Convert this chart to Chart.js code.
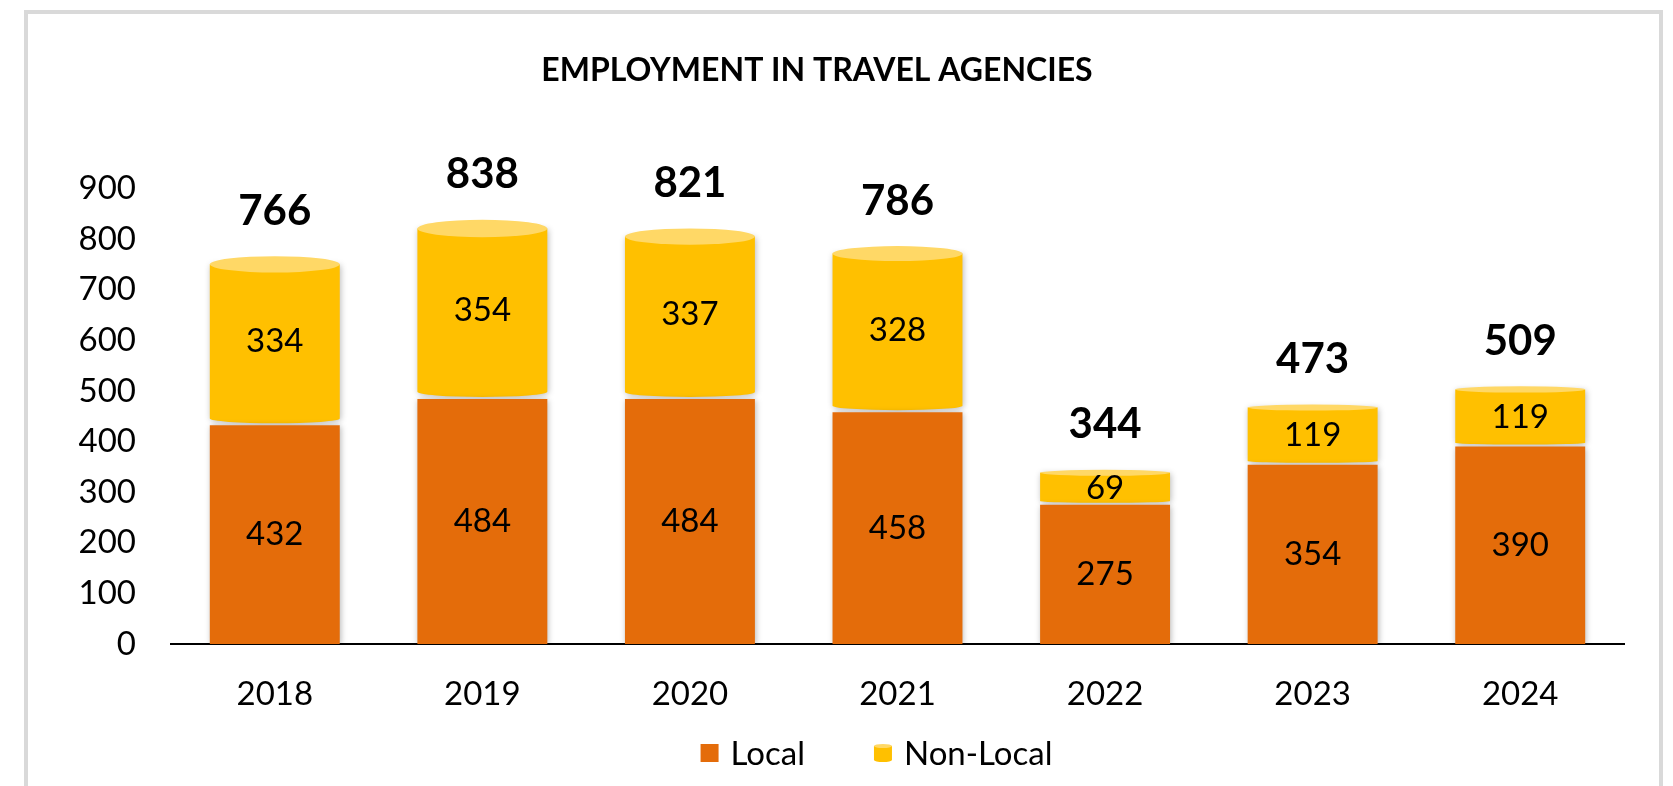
<!DOCTYPE html>
<html>
<head>
<meta charset="utf-8">
<title>Employment in Travel Agencies</title>
<script src="https://cdn.jsdelivr.net/npm/chart.js@4.4.1/dist/chart.umd.min.js"></script>
<style>
    html, body { margin: 0; padding: 0; background: #fff; overflow: hidden; }
    #frame {
        position: absolute;
        left: 24px; top: 10px;
        width: 1631px; height: 800px;
        border: 4px solid #d9d9d9;
        border-bottom: none;
    }
    #chart { position: absolute; left: 0; top: 0; }
</style>
</head>
<body>
<div id="frame"></div>
<canvas id="chart" width="1673" height="786"></canvas>
<script>
// employment figures per year
const years = ["2018", "2019", "2020", "2021", "2022", "2023", "2024"];
const localStaff = [432, 484, 484, 458, 275, 354, 390];
const nonLocalStaff = [334, 354, 337, 328, 69, 119, 119];
const yTicks = [0, 100, 200, 300, 400, 500, 600, 700, 800, 900];

const totals = years.map((_, i) => localStaff[i] + nonLocalStaff[i]);

const ORANGE = "#e46c0a";
const YELLOW = "#ffc000";
const YELLOW_TOP = "#ffd866";
const FONT = "Lato, 'Open Sans', sans-serif";

// perspective-ish cap height: taller near the top-left, flatter low and right
const capRadius = (x, y) => Math.max(3, Math.min(10, 0.024 * (595 - y) - 0.0015 * (x - 276)));

function setShadow(ctx) {
    ctx.shadowColor = "rgba(0,0,0,0.28)";
    ctx.shadowBlur = 6;
    ctx.shadowOffsetX = 1;
    ctx.shadowOffsetY = 1;
}

function drawCylinder(ctx, bar, small) {
    const rx = bar.width / 2;
    const left = bar.x - rx, right = bar.x + rx;
    const ry = capRadius(bar.x, bar.y);
    const ryb = ry * 0.6;
    const yb = bar.base - ryb - 2;

    ctx.save();
    setShadow(ctx);
    ctx.fillStyle = YELLOW;
    ctx.beginPath();
    ctx.moveTo(left, bar.y + ry);
    ctx.lineTo(left, yb);
    ctx.ellipse(bar.x, yb, rx, ryb, 0, Math.PI, 0, true);
    ctx.lineTo(right, bar.y + ry);
    ctx.closePath();
    ctx.fill();
    ctx.restore();

    ctx.fillStyle = YELLOW_TOP;
    ctx.beginPath();
    ctx.ellipse(bar.x, bar.y + ry, rx, ry, 0, 0, Math.PI * 2);
    ctx.fill();
}

// shadows on the flat bars, cylinders for the non-local stack
const barStyler = {
    id: "barStyler",
    beforeDatasetDraw(chart, args) {
        if (args.index === 0) {
            chart.ctx.save();
            setShadow(chart.ctx);
        }
    },
    afterDatasetDraw(chart, args) {
        const ctx = chart.ctx;
        if (args.index === 0) {
            ctx.restore();
            return;
        }
        args.meta.data.forEach(bar => drawCylinder(ctx, bar));
    }
};

// values inside each segment, totals above each stack, and the legend
const labelsAndLegend = {
    id: "labelsAndLegend",
    afterDatasetsDraw(chart) {
        const ctx = chart.ctx;
        ctx.save();
        ctx.fillStyle = "#000";
        ctx.textAlign = "center";
        ctx.textBaseline = "middle";

        ctx.font = `33px ${FONT}`;
        chart.data.datasets.forEach((ds, di) => {
            chart.getDatasetMeta(di).data.forEach((bar, i) => {
                const mid = (bar.y + bar.base) / 2 + (di === 1 ? 1 : 0);
                ctx.fillText(String(ds.data[i]), bar.x, mid);
            });
        });

        ctx.font = `bold 42px ${FONT}`;
        chart.getDatasetMeta(1).data.forEach((bar, i) => {
            ctx.fillText(String(totals[i]), bar.x, bar.y - 45);
        });

        // legend
        const area = chart.chartArea;
        const ly = 753;
        ctx.font = `33px ${FONT}`;
        ctx.textAlign = "left";
        const box = 18, gapText = 12, gapItem = 69;
        const w1 = ctx.measureText("Local").width;
        const w2 = ctx.measureText("Non-Local").width;
        const total = box + gapText + w1 + gapItem + box + gapText + w2;
        let lx = (area.left + area.right) / 2 - 21 - total / 2;

        ctx.fillStyle = ORANGE;
        ctx.fillRect(lx, ly - box / 2, box, box);
        ctx.fillStyle = "#000";
        ctx.fillText("Local", lx + box + gapText, ly + 1);
        lx += box + gapText + w1 + gapItem;

        ctx.fillStyle = YELLOW;
        ctx.beginPath();
        ctx.moveTo(lx, ly - box / 2 + 2);
        ctx.lineTo(lx, ly + box / 2 - 2);
        ctx.ellipse(lx + box / 2, ly + box / 2 - 2, box / 2, 2, 0, Math.PI, 0, true);
        ctx.lineTo(lx + box, ly - box / 2 + 2);
        ctx.closePath();
        ctx.fill();
        ctx.fillStyle = YELLOW_TOP;
        ctx.beginPath();
        ctx.ellipse(lx + box / 2, ly - box / 2 + 2, box / 2, 2, 0, 0, Math.PI * 2);
        ctx.fill();
        ctx.fillStyle = "#000";
        ctx.fillText("Non-Local", lx + box + gapText, ly + 1);

        ctx.restore();
    }
};

new Chart(document.getElementById("chart"), {
    type: "bar",
    data: {
        labels: years,
        datasets: [
            {
                label: "Local",
                data: localStaff,
                backgroundColor: ORANGE,
                borderWidth: 0,
                barPercentage: 0.626,
                categoryPercentage: 1
            },
            {
                label: "Non-Local",
                data: nonLocalStaff,
                backgroundColor: "rgba(0,0,0,0)",
                borderWidth: 0,
                barPercentage: 0.626,
                categoryPercentage: 1
            }
        ]
    },
    options: {
        responsive: false,
        animation: false,
        layout: { padding: { left: 10, right: 49, top: 0, bottom: 0 } },
        plugins: {
            legend: { display: false },
            tooltip: { enabled: false },
            title: {
                display: true,
                text: "EMPLOYMENT IN TRAVEL AGENCIES",
                color: "#000",
                font: { family: FONT, size: 32, weight: "bold", lineHeight: 1.2 },
                padding: { top: 51, bottom: 99 }
            }
        },
        scales: {
            x: {
                stacked: true,
                grid: { display: false, drawTicks: false },
                border: { display: true, color: "#000", width: 2 },
                ticks: { color: "#000", font: { family: FONT, size: 33 }, padding: 31 },
                afterFit: scale => { scale.height = 142; }
            },
            y: {
                stacked: true,
                min: 0,
                max: 900,
                grid: { display: false, drawTicks: false },
                border: { display: false },
                afterBuildTicks: scale => { scale.ticks = yTicks.map(v => ({ value: v })); },
                ticks: { color: "#000", font: { family: FONT, size: 33 }, padding: 35 },
                afterFit: scale => { scale.width = 161; }
            }
        }
    },
    plugins: [barStyler, labelsAndLegend]
});
</script>
</body>
</html>
